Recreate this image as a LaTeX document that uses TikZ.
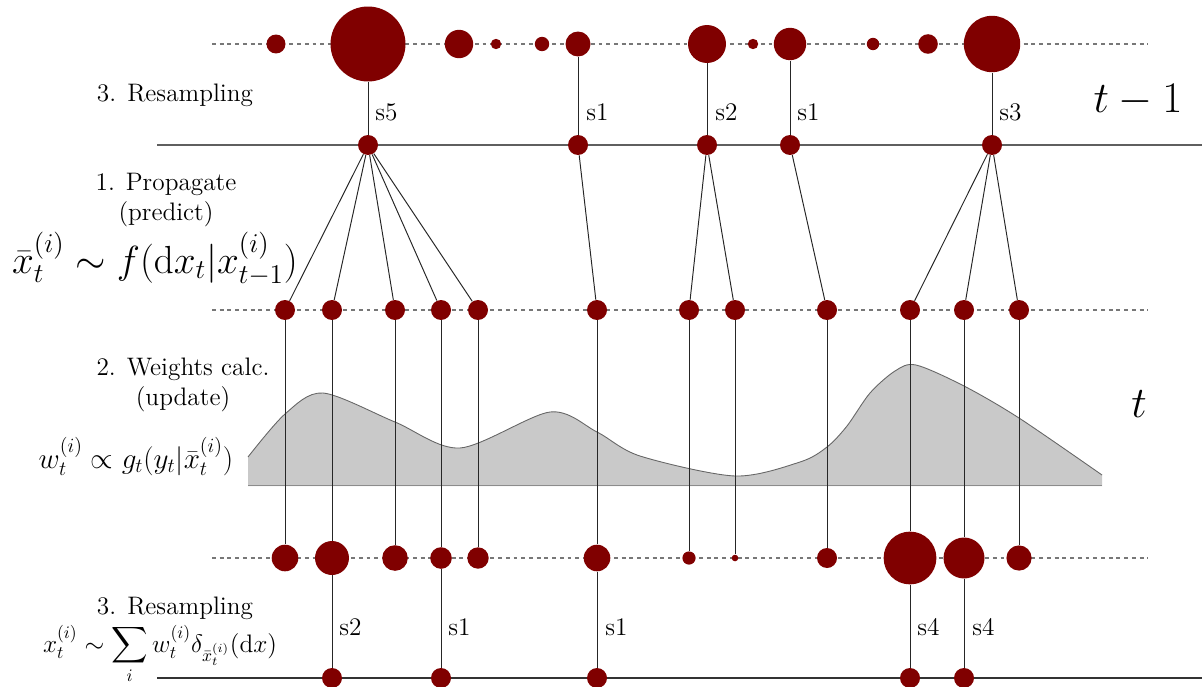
\documentclass[tikz,border=0pt]{standalone}
\usepackage{amsmath}
\definecolor{dotred}{HTML}{800000}
\definecolor{curvefill}{HTML}{C9C9C9}
\definecolor{axisgray}{HTML}{777777}
\begin{document}
\begin{tikzpicture}[x=0.02cm,y=-0.02cm,
  font=\fontsize{14.4}{17}\selectfont,
  pt/.style={circle,fill=dotred,draw=none,inner sep=0pt,minimum size=#1*0.04cm},
  guide/.style={axisgray,line width=0.6pt,dash pattern=on 2.2pt off 2.2pt},
  axis/.style={axisgray!80!black,line width=0.6pt},
  conn/.style={black!85,line width=0.55pt},
  lbl/.style={anchor=west,inner sep=0pt},
  txt/.style={inner sep=0pt,align=center}]
\useasboundingbox (0,0) rectangle (1202,686);

% likelihood curve
\def\curvepts{(248,457) (285,414) (323,393) (395,422) (460,448) (550,412) (597,432) (640,456) (735,476) (800,462) (827,447) (847,426) (870,393) (895,371) (916,365) (964,386) (1019,418) (1102,475)}
\fill[curvefill] (248,486) -- plot[smooth,tension=0.5] coordinates {\curvepts} -- (1102,486) -- cycle;
\draw[black!60,line width=0.5pt] plot[smooth,tension=0.5] coordinates {\curvepts};
\coordinate (cbl) at (248,485.5);
\coordinate (cbr) at (1102,485.5);
\draw[black!45,line width=0.6pt] (cbl) -- (cbr);

% guide lines
\coordinate (g1l) at (212,44);  \coordinate (g1r) at (1148,44);
\coordinate (g2l) at (212,310); \coordinate (g2r) at (1148,310);
\coordinate (g3l) at (212,558); \coordinate (g3r) at (1148,558);
\draw[guide] (g1l) -- (g1r);
\draw[guide] (g2l) -- (g2r);
\draw[guide] (g3l) -- (g3r);
\coordinate (h1l) at (157,145); \coordinate (h1r) at (1202,145);
\coordinate (h2l) at (157,678); \coordinate (h2r) at (1202,678);
\draw[axis] (h1l) -- (h1r);
\draw[axis,black!80] (h2l) -- (h2r);

% particles t-1 (weighted)
\foreach \x/\r [count=\i] in {276/9.5,368/37.5,459/14.2,496/5.2,542/7.2,578/12.5,707/19,753/5.2,790/16.2,873/6.2,928/9.8,992/28.2}
  \node[pt=\r] (a\i) at (\x,44) {};
% resampled t-1
\foreach \x [count=\i] in {368,578,707,790,992}
  \node[pt=10] (b\i) at (\x,145) {};
% propagated
\foreach \x [count=\i] in {285,332,395,441,478,597,689,735,827,910,964,1019}
  \node[pt=10] (c\i) at (\x,310) {};
% weighted t
\foreach \x/\r [count=\i] in {285/13.3,332/17,395/12.8,441/10.8,478/10.7,597/13.3,689/6.6,735/3.3,827/10,910/26.4,964/20.5,1019/12.6}
  \node[pt=\r] (d\i) at (\x,558) {};
% resampled t
\foreach \x [count=\i] in {332,441,597,910,964}
  \node[pt=10] (e\i) at (\x,678) {};

% resampling t-1
\foreach \s/\t in {2/1,6/2,7/3,9/4,12/5}
  \draw[conn] (a\s) -- (b\t);
% propagation
\foreach \s/\t in {1/1,1/2,1/3,1/4,1/5,2/6,3/7,3/8,4/9,5/10,5/11,5/12}
  \draw[conn] (b\s) -- (c\t);
% weighting
\foreach \i in {1,...,12}
  \draw[conn] (c\i) -- (d\i);
% resampling t
\foreach \s/\t in {2/1,4/2,6/3,10/4,11/5}
  \draw[conn] (d\s) -- (e\t);

% sample labels
\node[lbl] (s1) at (375,112) {s5};
\node[lbl] (s2) at (586,112) {s1};
\node[lbl] (s3) at (715,112) {s2};
\node[lbl] (s4) at (797,112) {s1};
\node[lbl] (s5) at (999,112) {s3};
\node[lbl] (r1) at (339,627) {s2};
\node[lbl] (r2) at (448,627) {s1};
\node[lbl] (r3) at (605,627) {s1};
\node[lbl] (r4) at (917,627) {s4};
\node[lbl] (r5) at (972,627) {s4};

% step texts
\node[txt] (step3a) at (175,95) {3. Resampling};
\node[txt] (step1) at (166,200) {1. Propagate\\(predict)};
\node[txt,anchor=base,scale=1.075,transform shape] (f1) at (155,273) {\fontsize{20.74}{25}\selectfont $\bar{x}_t^{(i)} \sim f(\mathrm{d}x_t|x_{t-1}^{(i)})$};
\node[txt] (step2) at (183,385) {2. Weights calc.\\(update)};
\node[txt,anchor=base,scale=0.96,transform shape] (f2) at (136,468) {\fontsize{17.28}{20}\selectfont $w_t^{(i)} \propto g_t(y_t|\bar{x}_t^{(i)})$};
\node[txt] (step3b) at (175,608) {3. Resampling};
\node[txt,anchor=base] (f3) at (160,652) {$\displaystyle x_t^{(i)} \sim \sum_i w_t^{(i)}\delta_{\bar{x}_t^{(i)}}(\mathrm{d}x)$};
\node[txt] (tm1) at (1138,100) {\fontsize{24.88}{30}\selectfont $t-1$};
\node[txt] (tt) at (1139,404) {\fontsize{24.88}{30}\selectfont $t$};
\end{tikzpicture}
\end{document}
